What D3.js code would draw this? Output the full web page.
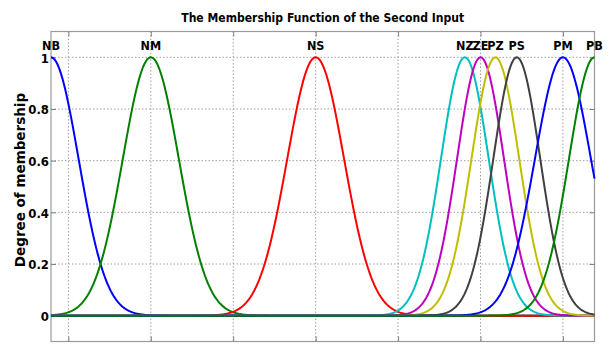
<!DOCTYPE html>
<html>
<head>
<meta charset="utf-8">
<script src="https://cdnjs.cloudflare.com/ajax/libs/d3/7.8.5/d3.min.js"></script>
<style>
  body { margin: 0; background: #fff; }
  svg { display: block; }
</style>
</head>
<body>
<div id="chart"></div>
<script>
// membership functions (gaussian: centre, sigma)
const mfNames   = ["NB", "NM", "NS", "NZ", "ZE", "PZ", "PS", "PM", "PB"];
const mfCenters = [-0.211, 1, 3, 4.81, 5.0, 5.18, 5.44, 6.0, 6.383];
const mfSigmas  = [0.335, 0.34, 0.345, 0.29, 0.285, 0.29, 0.285, 0.34, 0.31];
const xTicks = [0, 1, 2, 3, 4, 5, 6];
const yTicks = [0, 0.2, 0.4, 0.6, 0.8, 1];

// matlab default colour order
const colors = ["#0000ff", "#008000", "#ff0000", "#00bfbf", "#bf00bf", "#bfbf00", "#404040", "#0000ff", "#008000"];

const width = 612;
const height = 345;
const pLeft = 51, pRight = 594.5, pTop = 31.5, pBottom = 341.5;
const xDomain = [-0.211, 6.383];

const svg = d3.select("#chart")
  .append("svg")
  .attr("width", width)
  .attr("height", height);

const x = d3.scaleLinear().domain(xDomain).range([pLeft, pRight]);
const y = d3.scaleLinear().domain([-0.1, 1.1]).range([pBottom, pTop]);

const gridColor = "#a0a0a0";

// grid
svg.append("g")
  .selectAll("line")
  .data(xTicks)
  .enter()
  .append("line")
  .attr("x1", d => x(d)).attr("x2", d => x(d))
  .attr("y1", pTop).attr("y2", pBottom)
  .attr("stroke", gridColor)
  .attr("stroke-width", 1)
  .attr("stroke-dasharray", "1.5,2");

svg.append("g")
  .selectAll("line")
  .data(yTicks)
  .enter()
  .append("line")
  .attr("x1", pLeft).attr("x2", pRight)
  .attr("y1", d => y(d)).attr("y2", d => y(d))
  .attr("stroke", gridColor)
  .attr("stroke-width", 1)
  .attr("stroke-dasharray", "1.5,2");

// box
svg.append("rect")
  .attr("x", pLeft).attr("y", pTop)
  .attr("width", pRight - pLeft).attr("height", pBottom - pTop)
  .attr("fill", "none")
  .attr("stroke", "#9a9a9a")
  .attr("stroke-width", 1.2);

// axes with inward ticks
const yAxis = svg.append("g")
  .attr("transform", `translate(${pLeft},0)`)
  .call(d3.axisLeft(y).tickValues(yTicks).tickSize(-5).tickPadding(2).tickFormat(d => String(d)));
const yAxisR = svg.append("g")
  .attr("transform", `translate(${pRight},0)`)
  .call(d3.axisRight(y).tickValues(yTicks).tickSize(-5).tickFormat(""));
const xAxisB = svg.append("g")
  .attr("transform", `translate(0,${pBottom})`)
  .call(d3.axisBottom(x).tickValues(xTicks).tickSize(-5).tickFormat(""));
const xAxisT = svg.append("g")
  .attr("transform", `translate(0,${pTop})`)
  .call(d3.axisTop(x).tickValues(xTicks).tickSize(-5).tickFormat(""));

[yAxis, yAxisR, xAxisB, xAxisT].forEach(g => {
  g.select(".domain").remove();
  g.selectAll(".tick line").attr("stroke", "#808080");
});
yAxis.selectAll("text")
  .attr("fill", "#000")
  .attr("dy", "0.36em")
  .style("font-family", "'DejaVu Sans Condensed', 'DejaVu Sans', sans-serif")
  .style("font-weight", "bold")
  .style("font-size", "13px");

// curves
const line = d3.line()
  .x(d => x(d[0]))
  .y(d => y(d[1]));

const n = 600;
const xs = d3.range(n + 1).map(i => xDomain[0] + i * (xDomain[1] - xDomain[0]) / n);

mfNames.forEach((name, i) => {
  const c = mfCenters[i], s = mfSigmas[i];
  const pts = xs.map(v => [v, Math.exp(-((v - c) * (v - c)) / (2 * s * s))]);
  svg.append("path")
    .datum(pts)
    .attr("d", line)
    .attr("fill", "none")
    .attr("stroke", colors[i])
    .attr("stroke-width", 2);
});

// mf labels (they crowd together over the right cluster, as in the original)
svg.append("g")
  .selectAll("text")
  .data(mfNames)
  .enter()
  .append("text")
  .attr("x", (d, i) => x(mfCenters[i]))
  .attr("y", 49.5)
  .attr("text-anchor", "middle")
  .style("font-family", "'DejaVu Sans Condensed', 'DejaVu Sans', sans-serif")
  .style("font-weight", "bold")
  .style("font-size", "12.5px")
  .text(d => d);

// title
svg.append("text")
  .attr("x", (pLeft + pRight) / 2)
  .attr("y", 22)
  .attr("text-anchor", "middle")
  .attr("textLength", 283)
  .attr("lengthAdjust", "spacingAndGlyphs")
  .style("font-family", "'DejaVu Sans', sans-serif")
  .style("font-weight", "bold")
  .style("font-size", "13px")
  .text("The Membership Function of the Second Input");

// y label
svg.append("text")
  .attr("transform", "translate(25,180) rotate(-90)")
  .attr("text-anchor", "middle")
  .style("font-family", "'DejaVu Sans', sans-serif")
  .style("font-weight", "bold")
  .style("font-size", "13.5px")
  .text("Degree of membership");
</script>
</body>
</html>
